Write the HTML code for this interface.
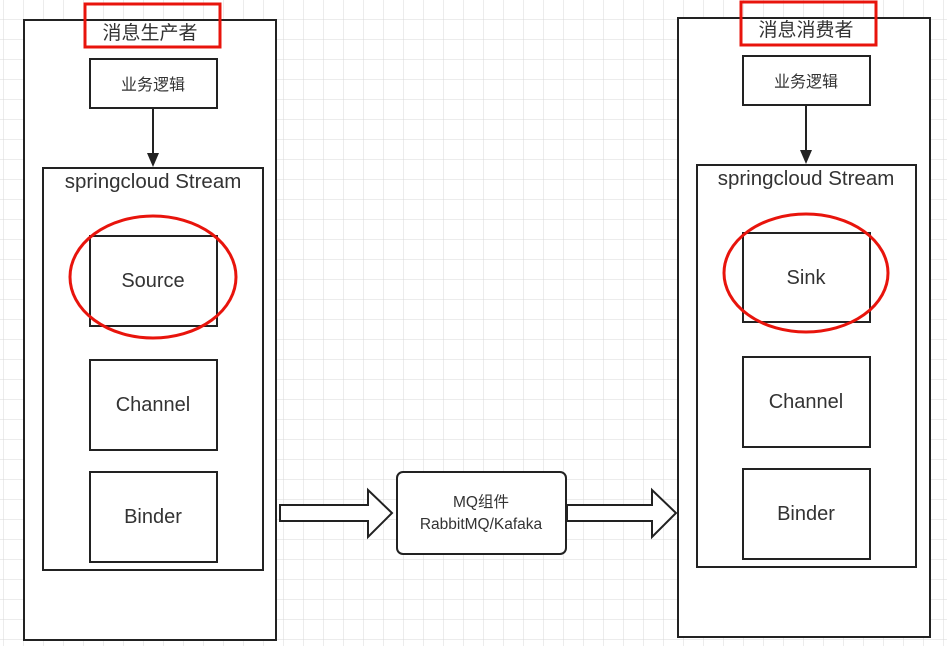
<!DOCTYPE html>
<html><head><meta charset="utf-8"><style>
html,body{margin:0;padding:0;background:#fff}
svg text{font-family:"Liberation Sans","Noto Sans CJK SC",sans-serif;fill:#333}
</style></head><body>
<svg width="947" height="646" viewBox="0 0 947 646" xmlns="http://www.w3.org/2000/svg">
<defs>
<pattern id="g" width="20" height="20" patternUnits="userSpaceOnUse" x="4" y="0">
<path d="M20 0V20M0 20H20" fill="none" stroke="#d9d9d9" stroke-width="1"/>
</pattern>
</defs>
<rect width="947" height="646" fill="url(#g)"/>
<g fill="none" stroke="#222" stroke-width="2">
<rect x="24" y="20" width="252" height="620" fill="#fff"/>
<rect x="90" y="59" width="127" height="49" fill="#fff"/>
<line x1="153" y1="108" x2="153" y2="155"/>
<rect x="43" y="168" width="220" height="402" fill="#fff"/>
<rect x="90" y="236" width="127" height="90"/>
<rect x="90" y="360" width="127" height="90"/>
<rect x="90" y="472" width="127" height="90"/>
<rect x="678" y="18" width="252" height="619" fill="#fff"/>
<rect x="743" y="56" width="127" height="49" fill="#fff"/>
<line x1="806" y1="105" x2="806" y2="152"/>
<rect x="697" y="165" width="219" height="402" fill="#fff"/>
<rect x="743" y="233" width="127" height="89"/>
<rect x="743" y="357" width="127" height="90"/>
<rect x="743" y="469" width="127" height="90"/>
<rect x="397" y="472" width="169" height="82" rx="6" fill="#fff"/>
<polygon points="280,505 368,505 368,490 392,513 368,537 368,521 280,521" fill="#fff"/>
<polygon points="567,505 652,505 652,490 676,513 652,537 652,521 567,521" fill="#fff"/>
</g>
<polygon points="147,153 159,153 153,167" fill="#222"/>
<polygon points="800,150 812,150 806,164" fill="#222"/>
<g fill="none" stroke="#e8140c" stroke-width="3">
<rect x="85" y="4" width="135" height="43"/>
<rect x="741" y="2" width="135" height="43"/>
<ellipse cx="153" cy="277" rx="83" ry="61"/>
<ellipse cx="806" cy="273" rx="82" ry="59"/>
</g>
<g text-anchor="middle">
<text x="150" y="39" font-size="19">消息生产者</text>
<text x="806" y="36" font-size="19">消息消费者</text>
<text x="153" y="90" font-size="16">业务逻辑</text>
<text x="806" y="87" font-size="16">业务逻辑</text>
<text x="153" y="188" font-size="20.5">springcloud Stream</text>
<text x="806" y="185" font-size="20.5">springcloud Stream</text>
<text x="153" y="287" font-size="20">Source</text>
<text x="806" y="284" font-size="20">Sink</text>
<text x="153" y="411" font-size="20">Channel</text>
<text x="806" y="408" font-size="20">Channel</text>
<text x="153" y="523" font-size="20">Binder</text>
<text x="806" y="520" font-size="20">Binder</text>
<text x="481" y="507" font-size="15.5">MQ组件</text>
<text x="481" y="529" font-size="15.5">RabbitMQ/Kafaka</text>
</g>
</svg>
</body></html>
